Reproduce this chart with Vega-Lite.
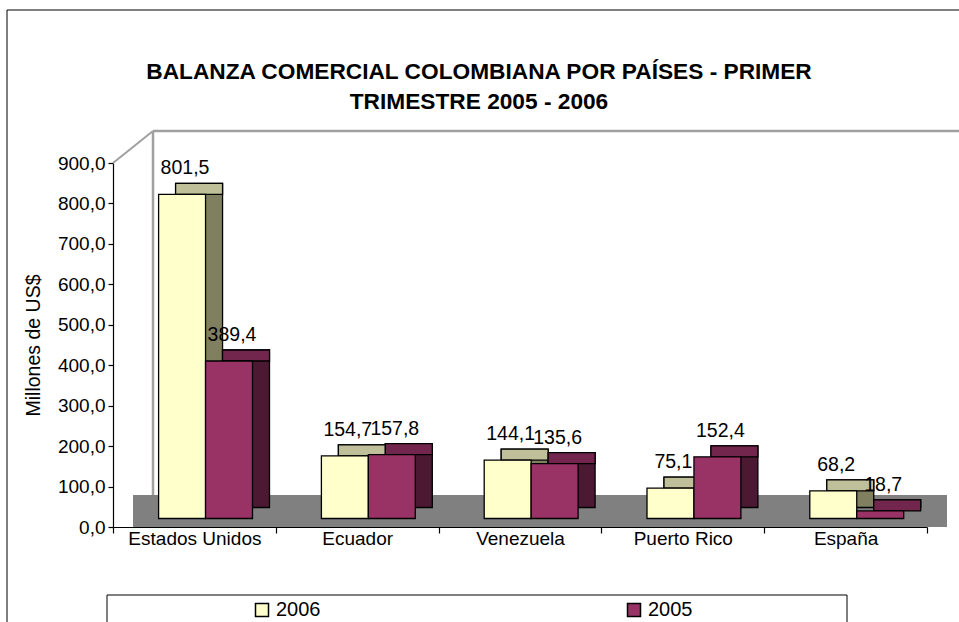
{
  "$schema": "https://vega.github.io/schema/vega-lite/v6.json",
  "width": 814,
  "height": 364,
  "autosize": {"type": "none"},
  "padding": {"left": 113, "top": 163, "right": 32, "bottom": 95},
  "background": "white",
  "config": {
    "locale": {"number": {"decimal": ",", "thousands": ".", "grouping": [3], "currency": ["$", ""]}},
    "font": "Liberation Sans",
    "view": {"stroke": null}
  },
  "title": {
    "text": ["BALANZA COMERCIAL COLOMBIANA POR PAÍSES - PRIMER", "TRIMESTRE 2005 - 2006"],
    "font": "Liberation Sans",
    "fontSize": 22.7,
    "fontWeight": "bold",
    "color": "black",
    "anchor": "middle",
    "frame": "group",
    "dx": -41,
    "offset": -127.25,
    "lineHeight": 30,
    "baseline": "bottom"
  },
  "data": {
    "values": [
      {"pais": "Estados Unidos", "anio": "2006", "valor": 801.5},
      {"pais": "Estados Unidos", "anio": "2005", "valor": 389.4},
      {"pais": "Ecuador", "anio": "2006", "valor": 154.7},
      {"pais": "Ecuador", "anio": "2005", "valor": 157.8},
      {"pais": "Venezuela", "anio": "2006", "valor": 144.1},
      {"pais": "Venezuela", "anio": "2005", "valor": 135.6},
      {"pais": "Puerto Rico", "anio": "2006", "valor": 75.1},
      {"pais": "Puerto Rico", "anio": "2005", "valor": 152.4},
      {"pais": "España", "anio": "2006", "valor": 68.2},
      {"pais": "España", "anio": "2005", "valor": 18.7}
    ]
  },
  "resolve": {"scale": {"xOffset": "independent"}},
  "layer": [
    {
      "data": {"values": [{}]},
      "mark": {"type": "rect", "fill": null, "stroke": "black", "strokeWidth": 1, "xOffset": -106, "x2Offset": 45, "yOffset": -153, "y2Offset": 100},
      "encoding": {
        "x": {"datum": "Estados Unidos", "type": "nominal", "bandPosition": 0, "title": null,
              "scale": {"domain": ["Estados Unidos", "Ecuador", "Venezuela", "Puerto Rico", "España"], "paddingInner": 0, "paddingOuter": 0}},
        "x2": {"datum": "España", "bandPosition": 1},
        "y": {"datum": 900, "type": "quantitative", "title": "Millones de US$", "scale": {"domain": [0, 900], "nice": false}},
        "y2": {"datum": 0}
      }
    },
    {
      "data": {"values": [{}]},
      "mark": {"type": "rect", "fill": null, "stroke": "black", "strokeWidth": 1, "xOffset": -6, "x2Offset": 734, "yOffset": 68, "y2Offset": 100},
      "encoding": {
        "x": {"datum": "Estados Unidos", "type": "nominal", "bandPosition": 0, "title": null},
        "x2": {"datum": "Estados Unidos", "bandPosition": 0},
        "y": {"datum": 0, "type": "quantitative", "title": "Millones de US$", "scale": {"domain": [0, 900], "nice": false}},
        "y2": {"datum": 0}
      }
    },
    {
      "data": {"values": [{}]},
      "mark": {"type": "rect", "fill": "#808080", "xOffset": 20, "x2Offset": 20, "y2Offset": -32},
      "encoding": {
        "x": {"datum": "Estados Unidos", "type": "nominal", "bandPosition": 0, "title": null},
        "x2": {"datum": "España", "bandPosition": 1},
        "y": {"datum": 0, "type": "quantitative", "title": "Millones de US$", "scale": {"domain": [0, 900], "nice": false}},
        "y2": {"datum": 0}
      }
    },
    {
      "data": {"values": [{}]},
      "mark": {"type": "rule", "stroke": "#A0A0A0", "strokeWidth": 2.5, "xOffset": 40, "yOffset": -32, "y2Offset": -32},
      "encoding": {
        "x": {"datum": "Estados Unidos", "type": "nominal", "bandPosition": 0, "title": null},
        "y": {"datum": 0, "type": "quantitative", "title": "Millones de US$", "scale": {"domain": [0, 900], "nice": false}},
        "y2": {"datum": 900}
      }
    },
    {
      "data": {"values": [{}]},
      "mark": {"type": "rule", "stroke": "#A0A0A0", "strokeWidth": 2.5, "xOffset": 40, "x2Offset": 40, "yOffset": -32},
      "encoding": {
        "x": {"datum": "Estados Unidos", "type": "nominal", "bandPosition": 0, "title": null},
        "x2": {"datum": "España", "bandPosition": 1},
        "y": {"datum": 900, "type": "quantitative", "title": "Millones de US$", "scale": {"domain": [0, 900], "nice": false}}
      }
    },
    {
      "data": {"values": [{}]},
      "mark": {"type": "rule", "stroke": "#A0A0A0", "strokeWidth": 2, "xOffset": 40, "yOffset": -32},
      "encoding": {
        "x": {"datum": "Estados Unidos", "type": "nominal", "bandPosition": 0, "title": null},
        "x2": {"datum": "Estados Unidos", "bandPosition": 0},
        "y": {"datum": 900, "type": "quantitative", "title": "Millones de US$", "scale": {"domain": [0, 900], "nice": false}},
        "y2": {"datum": 900}
      }
    },
    {
      "mark": {"type": "bar", "stroke": "black", "strokeWidth": 1.3, "yOffset": -19.5, "y2Offset": -19.5},
      "encoding": {
        "x": {"field": "pais", "type": "nominal", "title": null, "sort": ["Estados Unidos", "Ecuador", "Venezuela", "Puerto Rico", "España"]},
        "xOffset": {"field": "anio", "type": "nominal", "sort": ["2006", "2005"], "scale": {"range": [62.6, 156.5], "paddingInner": 0, "paddingOuter": 0}},
        "y": {"field": "valor", "type": "quantitative", "title": "Millones de US$", "scale": {"domain": [0, 900], "nice": false}},
        "fill": {"condition": {"test": "datum.anio === '2006'", "value": "#808060"}, "value": "#4C1933"}
      }
    },
    {
      "mark": {"type": "bar", "stroke": "black", "strokeWidth": 1.3, "yOffset": -19.5, "y2Offset": -8.5},
      "encoding": {
        "x": {"field": "pais", "type": "nominal", "title": null, "sort": ["Estados Unidos", "Ecuador", "Venezuela", "Puerto Rico", "España"]},
        "xOffset": {"field": "anio", "type": "nominal", "sort": ["2006", "2005"], "scale": {"range": [62.6, 156.5], "paddingInner": 0, "paddingOuter": 0}},
        "y": {"field": "valor", "type": "quantitative", "title": "Millones de US$", "scale": {"domain": [0, 900], "nice": false}},
        "y2": {"field": "valor"},
        "fill": {"condition": {"test": "datum.anio === '2006'", "value": "#BFBF99"}, "value": "#73264D"}
      }
    },
    {
      "mark": {"type": "bar", "stroke": "black", "strokeWidth": 1.3, "yOffset": -8.5, "y2Offset": -8.5},
      "encoding": {
        "x": {
          "field": "pais", "type": "nominal", "title": null,
          "sort": ["Estados Unidos", "Ecuador", "Venezuela", "Puerto Rico", "España"],
          "axis": {
            "title": null, "labelFont": "Liberation Sans", "labelFontSize": 19, "labelColor": "black",
            "labelAngle": 0, "domainColor": "black", "domainWidth": 1.2, "tickColor": "black",
            "tickSize": 6, "tickWidth": 1.2, "tickBand": "extent", "bandPosition": 0.5,
            "labelAlign": "center", "labelPadding": 5, "grid": false
          }
        },
        "xOffset": {"field": "anio", "type": "nominal", "sort": ["2006", "2005"], "scale": {"range": [45.6, 139.5], "paddingInner": 0, "paddingOuter": 0}},
        "y": {
          "field": "valor", "type": "quantitative", "title": "Millones de US$",
          "scale": {"domain": [0, 900], "nice": false},
          "axis": {
            "title": "Millones de US$", "titleFont": "Liberation Sans", "titleFontSize": 19.5,
            "titleFontWeight": "normal", "titleColor": "black", "titleX": -80, "titleY": 182,
            "titleAlign": "center", "titleBaseline": "middle",
            "values": [0, 100, 200, 300, 400, 500, 600, 700, 800, 900], "format": ".1f",
            "labelFont": "Liberation Sans", "labelFontSize": 19, "labelColor": "black",
            "tickColor": "black", "tickSize": 5, "tickWidth": 1.2, "labelPadding": 3,
            "domainColor": "black", "domainWidth": 1.2, "grid": false
          }
        },
        "color": {
          "field": "anio", "type": "nominal", "sort": ["2006", "2005"],
          "scale": {"domain": ["2006", "2005"], "range": ["#FFFFCC", "#993366"]},
          "legend": {
            "orient": "none", "legendX": 139, "legendY": 437, "direction": "horizontal", "columns": 2,
            "title": null, "padding": 0,
            "symbolType": "square", "symbolSize": 169, "symbolStrokeColor": "black", "symbolStrokeWidth": 1.5,
            "labelFont": "Liberation Sans", "labelFontSize": 20, "labelColor": "black", "labelOffset": 4,
            "labelLimit": 500, "columnPadding": 303
          }
        }
      }
    },
    {
      "mark": {"type": "text", "font": "Liberation Sans", "fontSize": 19.5, "color": "black", "baseline": "middle", "dy": -34.5},
      "encoding": {
        "x": {"field": "pais", "type": "nominal", "title": null, "sort": ["Estados Unidos", "Ecuador", "Venezuela", "Puerto Rico", "España"]},
        "xOffset": {"field": "anio", "type": "nominal", "sort": ["2006", "2005"], "scale": {"range": [72, 119], "padding": 0}},
        "y": {"field": "valor", "type": "quantitative", "title": "Millones de US$", "scale": {"domain": [0, 900], "nice": false}},
        "text": {"field": "valor", "type": "quantitative", "format": ".1f"}
      }
    }
  ]
}
